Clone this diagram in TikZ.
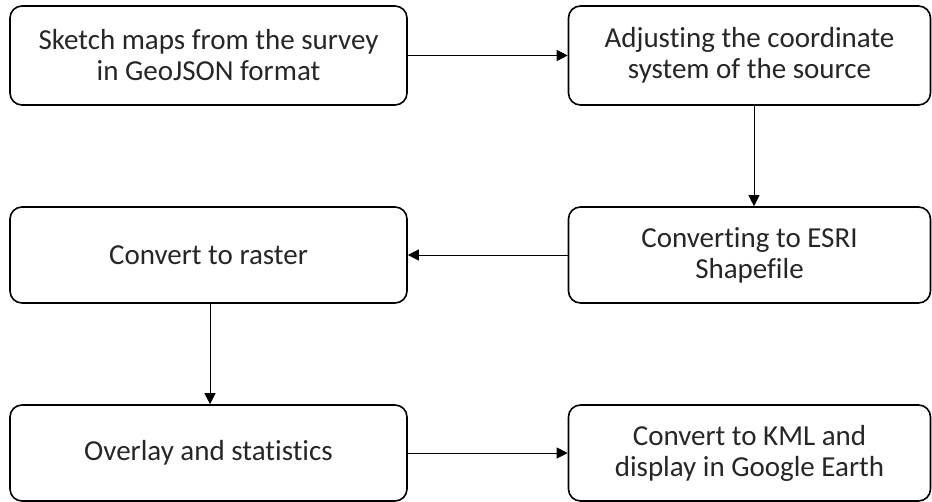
\documentclass[tikz,border=0pt]{standalone}
\usepackage{fontspec}
\setmainfont{Carlito}[Ligatures={NoCommon}]
\usetikzlibrary{arrows.meta}
\tikzset{
  stepbox/.style={draw=black, line width=1.6pt, rounded corners=12pt, align=center,
    font=\fontsize{29}{31}\selectfont, inner sep=0pt, text=black!85},
  arr/.style={draw=black, line width=0.9pt, -{Triangle[length=11pt,width=11pt]}}
}
\begin{document}
\begin{tikzpicture}[x=1pt,y=-1pt]
\useasboundingbox (0,0) rectangle (932,502);
\node[stepbox, minimum width=397pt, minimum height=99pt] (b1) at (208.5,55.5) {Sketch maps from the survey\\in GeoJSON format};
\node[stepbox, minimum width=362pt, minimum height=99pt] (b2) at (749.5,55.5) {Adjusting the coordinate\\system of the source};
\node[stepbox, minimum width=362pt, minimum height=96pt] (b3) at (749.5,255) {Converting to ESRI\\Shapefile};
\node[stepbox, minimum width=397pt, minimum height=96pt] (b4) at (208.5,255) {Convert to raster};
\node[stepbox, minimum width=397pt, minimum height=96pt] (b5) at (208.5,453) {Overlay and statistics};
\node[stepbox, minimum width=362pt, minimum height=96pt] (b6) at (749.5,453) {Convert to KML and\\display in Google Earth};
\draw[arr] (b1.east) -- (b2.west);
\draw[arr] ([xshift=4.5pt]b2.south) -- ([xshift=4.5pt]b3.north);
\draw[arr] (b3.west) -- (b4.east);
\draw[arr] ([xshift=1.5pt]b4.south) -- ([xshift=1.5pt]b5.north);
\draw[arr] (b5.east) -- (b6.west);
\end{tikzpicture}
\end{document}
